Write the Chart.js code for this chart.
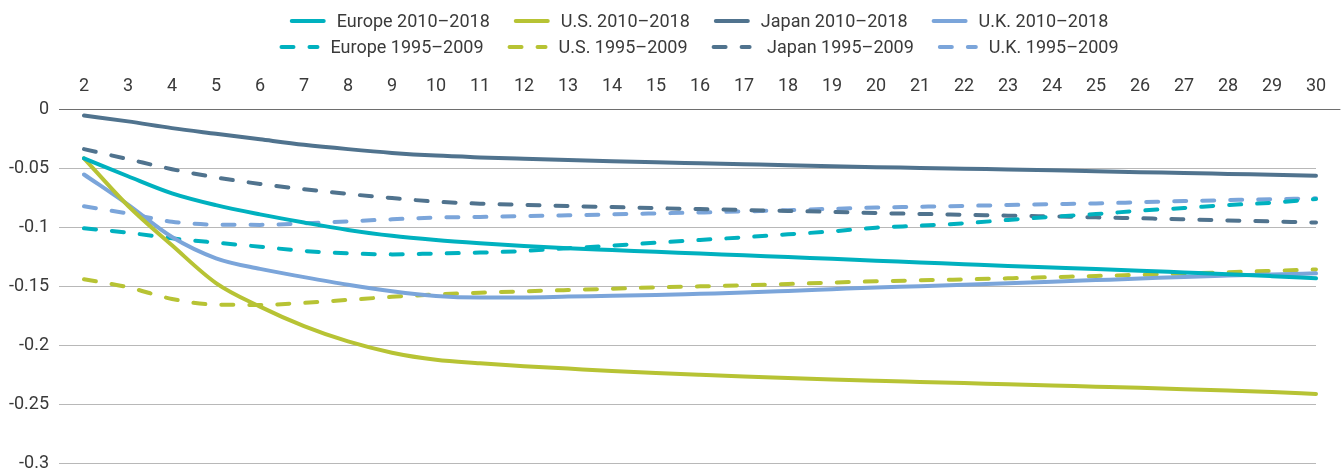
<!DOCTYPE html>
<html>
<head>
<meta charset="utf-8">
<script src="https://cdn.jsdelivr.net/npm/chart.js@4.4.1/dist/chart.umd.min.js"></script>
<style>
  html, body { margin: 0; padding: 0; background: #ffffff; }
  #wrap { position: relative; width: 1342px; height: 474px; }
</style>
</head>
<body>
<div id="wrap"><canvas id="chart"></canvas></div>
<script>
// ---- Data ----
const maturities = ['2','3','4','5','6','7','8','9','10','11','12','13','14','15','16','17','18','19','20','21','22','23','24','25','26','27','28','29','30'];

const europe2010 = [-0.0418,-0.057,-0.0715,-0.0815,-0.0893,-0.0962,-0.1025,-0.1075,-0.111,-0.1137,-0.116,-0.118,-0.1195,-0.121,-0.1225,-0.124,-0.1255,-0.127,-0.1285,-0.13,-0.1315,-0.133,-0.1343,-0.1356,-0.137,-0.1385,-0.14,-0.1417,-0.1435];
const us2010 = [-0.0418,-0.082,-0.1155,-0.1475,-0.1675,-0.184,-0.197,-0.2065,-0.2125,-0.2155,-0.218,-0.22,-0.222,-0.2237,-0.2252,-0.2266,-0.2279,-0.2292,-0.2303,-0.2313,-0.2323,-0.2333,-0.2343,-0.2353,-0.2363,-0.2374,-0.2386,-0.2399,-0.2415];
const japan2010 = [-0.0055,-0.0105,-0.0162,-0.021,-0.0257,-0.0303,-0.034,-0.0372,-0.0395,-0.041,-0.0422,-0.0433,-0.0443,-0.0452,-0.046,-0.0468,-0.0476,-0.0485,-0.0493,-0.0499,-0.0506,-0.0513,-0.052,-0.0527,-0.0535,-0.0542,-0.055,-0.0558,-0.0566];
const uk2010 = [-0.0555,-0.081,-0.1085,-0.1265,-0.1355,-0.1425,-0.149,-0.1545,-0.1585,-0.1598,-0.1597,-0.159,-0.1583,-0.1576,-0.1566,-0.1556,-0.1542,-0.1527,-0.1512,-0.1503,-0.149,-0.1477,-0.1463,-0.145,-0.1437,-0.1423,-0.1412,-0.1402,-0.1393];

const europe1995 = [-0.1011,-0.1048,-0.1096,-0.1133,-0.1167,-0.1203,-0.1223,-0.1232,-0.1225,-0.1217,-0.1203,-0.118,-0.1158,-0.1133,-0.111,-0.1087,-0.1062,-0.1037,-0.1006,-0.0989,-0.0969,-0.094,-0.0913,-0.089,-0.0862,-0.0839,-0.0814,-0.0794,-0.0763];
const us1995 = [-0.1443,-0.151,-0.161,-0.1658,-0.166,-0.1643,-0.1618,-0.1592,-0.1572,-0.1557,-0.1545,-0.1534,-0.1523,-0.1512,-0.1503,-0.1494,-0.1483,-0.1471,-0.146,-0.1452,-0.1444,-0.1435,-0.1425,-0.1415,-0.1405,-0.1394,-0.1383,-0.1372,-0.136];
const japan1995 = [-0.034,-0.0425,-0.051,-0.058,-0.0635,-0.068,-0.072,-0.0755,-0.0785,-0.0802,-0.0812,-0.0822,-0.0831,-0.084,-0.0848,-0.0856,-0.0864,-0.0872,-0.0882,-0.0889,-0.0896,-0.0904,-0.091,-0.0918,-0.0926,-0.0935,-0.0944,-0.0953,-0.0962];
const uk1995 = [-0.0825,-0.0885,-0.0955,-0.098,-0.0982,-0.097,-0.0952,-0.0935,-0.092,-0.0915,-0.0908,-0.0901,-0.0893,-0.0885,-0.0877,-0.0868,-0.0857,-0.0846,-0.0835,-0.0828,-0.0821,-0.0814,-0.0807,-0.08,-0.079,-0.078,-0.0772,-0.0764,-0.0757];

const seriesLabels = ['Europe 2010–2018','U.S. 2010–2018','Japan 2010–2018','U.K. 2010–2018',
                      'Europe 1995–2009','U.S. 1995–2009',' Japan 1995–2009','U.K. 1995–2009'];
const yTickValues = [0,-0.05,-0.1,-0.15,-0.2,-0.25,-0.3];

// ---- Styles ----
const C_EU = '#00b1bf', C_US = '#b7c334', C_JP = '#50738e', C_UK = '#7ba5da';
const DASH = [12, 16];
const FONT = 'Roboto, "Noto Sans", sans-serif';
const TEXT = '#3a3a3a';

function ds(label, data, color, dashed, row) {
  return {
    label, data,
    borderColor: color, backgroundColor: color,
    borderWidth: 4,
    borderDash: dashed ? DASH : [],
    borderCapStyle: 'round',
    borderJoinStyle: 'round',
    pointRadius: 0, pointHoverRadius: 0,
    cubicInterpolationMode: 'monotone',
    fill: false,
    legendRow: row
  };
}

const datasets = [
  ds(seriesLabels[0], europe2010, C_EU, false, 0),
  ds(seriesLabels[1], us2010, C_US, false, 0),
  ds(seriesLabels[2], japan2010, C_JP, false, 0),
  ds(seriesLabels[3], uk2010, C_UK, false, 0),
  ds(seriesLabels[4], europe1995, C_EU, true, 1),
  ds(seriesLabels[5], us1995, C_US, true, 1),
  ds(seriesLabels[6], japan1995, C_JP, true, 1),
  ds(seriesLabels[7], uk1995, C_UK, true, 1)
];

// Two-row legend drawn on the canvas from the datasets
const ROW_Y = [21, 47];
const twoRowLegend = {
  id: 'twoRowLegend',
  afterDraw(chart) {
    const ctx = chart.ctx;
    const area = chart.chartArea;
    ctx.save();
    ctx.font = '18px ' + FONT;
    ctx.textBaseline = 'middle';
    ctx.textAlign = 'left';
    const rows = [[], []];
    chart.data.datasets.forEach(d => rows[d.legendRow].push(d));
    rows.forEach((row, r) => {
      const items = row.map(d => {
        const lineLen = d.borderDash.length ? 36 : 32;
        const tw = ctx.measureText(d.label).width;
        return { d, lineLen, tw, w: lineLen + 13 + tw };
      });
      const gap = 26;
      const total = items.reduce((s, it) => s + it.w, 0) + gap * (items.length - 1);
      let x = (area.left + area.right) / 2 - total / 2;
      const y = ROW_Y[r];
      items.forEach(it => {
        ctx.beginPath();
        ctx.setLineDash(it.d.borderDash);
        ctx.lineCap = 'round';
        ctx.lineWidth = 4;
        ctx.strokeStyle = it.d.borderColor;
        ctx.moveTo(x, y);
        ctx.lineTo(x + it.lineLen, y);
        ctx.stroke();
        ctx.setLineDash([]);
        ctx.fillStyle = TEXT;
        ctx.fillText(it.d.label, x + it.lineLen + 13, y + 1);
        x += it.w + gap;
      });
    });
    // extend the zero line to the right edge
    const y0 = chart.scales.y.getPixelForValue(0);
    ctx.beginPath();
    ctx.lineWidth = 1;
    ctx.strokeStyle = '#6e6e6e';
    ctx.moveTo(area.right, Math.round(y0) + 0.5);
    ctx.lineTo(chart.width - 2, Math.round(y0) + 0.5);
    ctx.stroke();
    ctx.restore();
  }
};

new Chart(document.getElementById('chart'), {
  type: 'line',
  data: { labels: maturities, datasets },
  options: {
    responsive: true,
    maintainAspectRatio: false,
    animation: false,
    layout: { padding: { top: 60, right: 26, bottom: 11, left: 0 } },
    plugins: {
      legend: { display: false },
      tooltip: { enabled: false }
    },
    scales: {
      x: {
        position: 'top',
        offset: false,
        grid: { display: false, drawTicks: false },
        border: { display: false },
        ticks: {
          color: TEXT,
          font: { family: FONT, size: 18 },
          padding: 12,
          maxRotation: 0,
          autoSkip: false
        },
        afterFit(scale) {
          scale.height = 49;
          scale.paddingLeft = 0; scale.paddingRight = 0;
        }
      },
      y: {
        min: -0.3,
        max: 0,
        grid: {
          color: c => (c.tick && c.tick.value === 0) ? '#6e6e6e' : '#b8b8b8',
          lineWidth: 1,
          drawTicks: true,
          tickLength: 25
        },
        border: { display: false },
        afterBuildTicks(scale) { scale.ticks = yTickValues.map(v => ({ value: v })); },
        ticks: {
          color: TEXT,
          font: { family: FONT, size: 18 },
          padding: 10,
          callback: v => String(Math.round(v * 100) / 100)
        },
        afterFit(scale) {
          scale.width = 84;
          scale.paddingTop = 0; scale.paddingBottom = 0;
        }
      }
    }
  },
  plugins: [twoRowLegend]
});
</script>
</body>
</html>
